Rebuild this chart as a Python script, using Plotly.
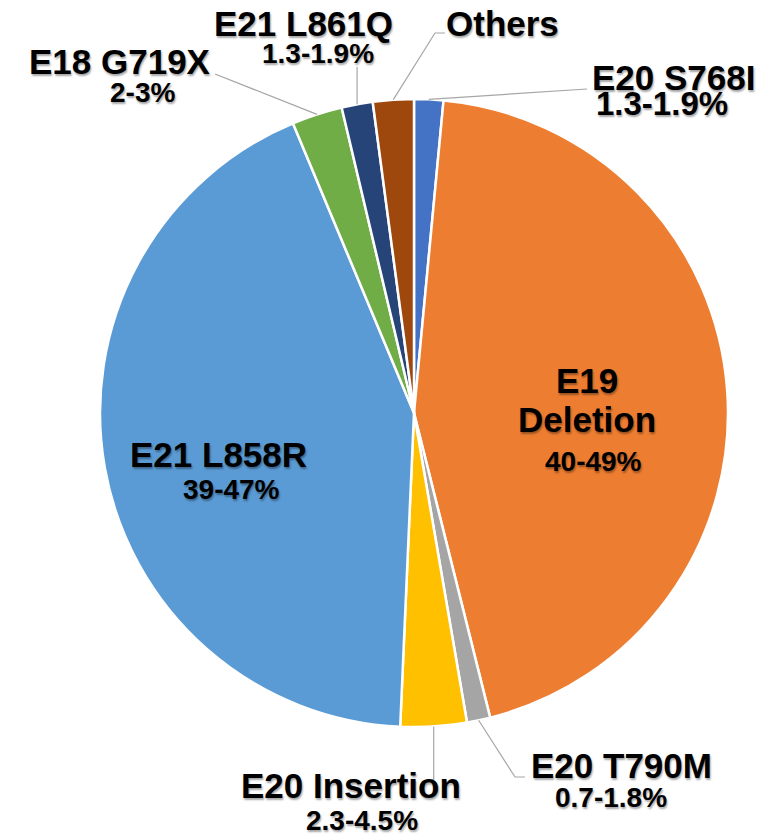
import math
import plotly.graph_objects as go

# ---- data ----
labels = ["E20 S768I", "E19 Deletion", "E20 T790M", "E20 Insertion",
          "E21 L858R", "E18 G719X", "E21 L861Q", "Others"]
values = [1.5, 44.6, 1.2, 3.4, 43.0, 2.6, 1.6, 2.1]
ranges = ["1.3-1.9%", "40-49%", "0.7-1.8%", "2.3-4.5%",
          "39-47%", "2-3%", "1.3-1.9%", ""]
colors = ["#4472C4", "#ED7D31", "#A5A5A5", "#FFC000",
          "#5B9BD5", "#70AD47", "#264478", "#9E480E"]

# ---- layout geometry (pixels) ----
W, H = 777, 835
CX, CY, R = 414, 413, 314


def px(x):
    return x / W


def py(y):
    return 1 - y / H


FONT = "Liberation Sans, Arial, sans-serif"
SHADOW = "1px 2px 2px rgba(0,0,0,0.35)"
NAME_SIZE = 35
PCT_SIZE = 28

fig = go.Figure(go.Pie(
    labels=labels,
    values=values,
    sort=False,
    direction="clockwise",
    rotation=0,
    textinfo="none",
    hoverinfo="label+percent",
    marker=dict(colors=colors, line=dict(color="white", width=2.5)),
    domain=dict(x=[px(CX - R), px(CX + R)], y=[py(CY + R), py(CY - R)]),
    showlegend=False,
))

# label placements: (name lines with centers, range center, range size)
placements = {
    "E20 S768I": ([("E20 S768I", 673, 77)], (662, 103), 33),
    "E19 Deletion": ([("E19", 587, 380), ("Deletion", 587, 419)], (593, 461), PCT_SIZE),
    "E20 T790M": ([("E20 T790M", 621, 765)], (611, 797), PCT_SIZE),
    "E20 Insertion": ([("E20 Insertion", 351, 785)], (362, 820), PCT_SIZE),
    "E21 L858R": ([("E21 L858R", 218, 454)], (231, 490), PCT_SIZE),
    "E18 G719X": ([("E18 G719X", 120, 62)], (142, 92), PCT_SIZE),
    "E21 L861Q": ([("E21 L861Q", 303, 24)], (318, 53), PCT_SIZE),
    "Others": ([("Others", 502, 24)], None, PCT_SIZE),
}

annotations = []
for lab, rng in zip(labels, ranges):
    names, rpos, rsize = placements[lab]
    for text, x, y in names:
        annotations.append(dict(
            text=text, x=px(x), y=py(y), xref="paper", yref="paper",
            xanchor="center", yanchor="middle", showarrow=False,
            font=dict(family=FONT, size=NAME_SIZE, color="black",
                      weight="bold", shadow=SHADOW)))
    if rng and rpos:
        annotations.append(dict(
            text=rng, x=px(rpos[0]), y=py(rpos[1]), xref="paper", yref="paper",
            xanchor="center", yanchor="middle", showarrow=False,
            font=dict(family=FONT, size=rsize, color="black",
                      weight="bold", shadow=SHADOW)))

# leader lines: start on the arc at each slice's mid angle
total = sum(values)
cum = 0.0
mid = {}
for lab, v in zip(labels, values):
    theta = math.radians((cum + v / 2) / total * 360)
    mid[lab] = (CX + R * math.sin(theta), CY - R * math.cos(theta))
    cum += v

leader_ends = {
    "E20 S768I": lambda s: [(587, 89)],
    "E20 T790M": lambda s: [(515, 777), (525, 777)],
    "E20 Insertion": lambda s: [(s[0], 780)],
    "E18 G719X": lambda s: [(215, 74)],
    "E21 L861Q": lambda s: [(s[0], 67)],
    "Others": lambda s: [(435, 33), (445, 33)],
}

shapes = []
for lab, fn in leader_ends.items():
    s = mid[lab]
    pts = [s] + fn(s)
    path = "M " + " L ".join(f"{px(x):.5f},{py(y):.5f}" for x, y in pts)
    shapes.append(dict(type="path", path=path, xref="paper", yref="paper",
                       line=dict(color="#A6A6A6", width=1.2)))

fig.update_layout(
    width=W, height=H,
    margin=dict(l=0, r=0, t=0, b=0),
    paper_bgcolor="white",
    plot_bgcolor="white",
    annotations=annotations,
    shapes=shapes,
)

fig.write_html(
    "out.html",
    config={"displayModeBar": False},
    post_script="document.body.style.margin='0';document.body.style.overflow='hidden';",
)
